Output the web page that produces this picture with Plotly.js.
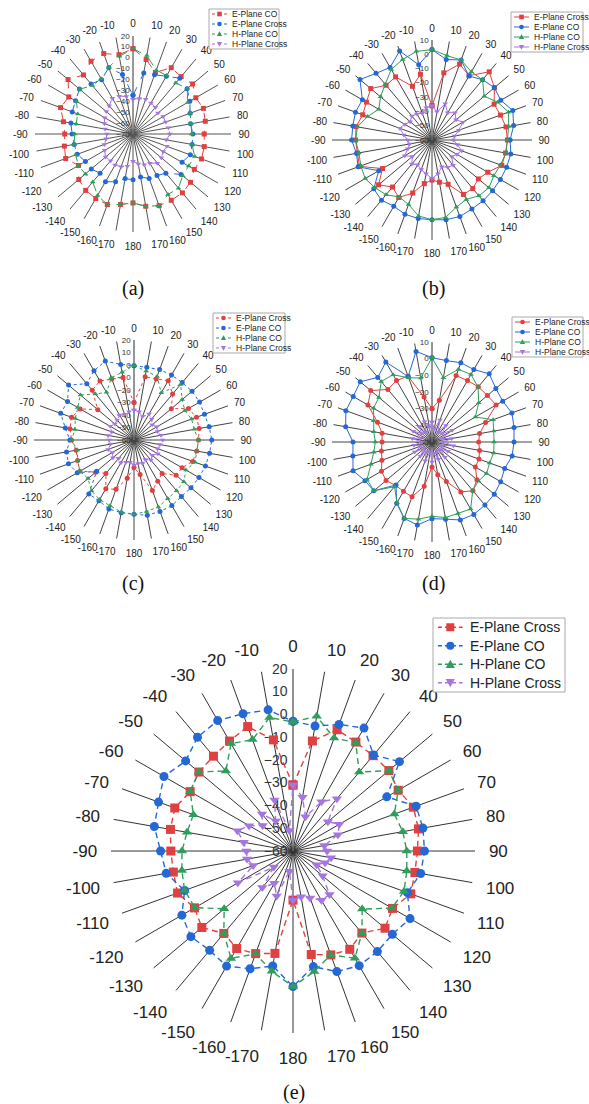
<!DOCTYPE html>
<html><head><meta charset="utf-8">
<script src="https://cdn.plot.ly/plotly-3.0.1.min.js"></script>
<style>html,body{margin:0;padding:0;background:#fff}#chart{width:589px;height:1104px}</style>
</head><body><div id="chart"></div>
<script>
// ---------- shared angular categories ----------
const ANGLES = [0,10,20,30,40,50,60,70,80,90,100,110,120,130,140,150,160,170,180,190,200,210,220,230,240,250,260,270,280,290,300,310,320,330,340,350];
const ANGLE_LABELS = ['0','10','20','30','40','50','60','70','80','90','100','110','120','130','140','150','160','170','180','-170','-160','-150','-140','-130','-120','-110','-100','-90','-80','-70','-60','-50','-40','-30','-20','-10'];

// ---------- (a) ----------
const A_NAMES = ['E-Plane CO','E-Plane Cross','H-Plane CO','H-Plane Cross'];
const A_RTICKS = [-70,-60,-50,-40,-30,-20,-10,0,10,20];
const A_ECO   = [8.3,-0.6,-9.8,0.3,-1.2,1.5,-3.4,-1.2,-2.6,-4.6,-3.6,-3,-5,-1,0.6,0.3,0,-2.6,-6.7,-4.3,-1.1,-1.6,-2.4,-5,-12.2,-4.2,-6,-7.3,-5.2,0.8,-1.9,7.8,0.8,7.1,8.6,4];
const A_ECROSS= [-34.5,-13.1,-12.2,-8.7,-3.1,-5.2,-9.7,-14.2,-16.3,-15,-14.9,-14,-18,-12.3,-23,-25.9,-26.5,-30,-28,-28.4,-23.3,-19.4,-23,-20,-19.6,-15.5,-15.1,-14,-12.1,-10.6,-9.1,-5.8,-10,-12.4,-5.1,-14.5];
const A_HCO   = [8.3,3.1,-7.6,-8,-8.8,-5,-12,-14,-15.9,-16,-15,-9.7,-11,-10.4,-5,-5.8,0,-2.6,-6.7,-4.3,-1.1,-4.9,-12.5,-13,-12,-14,-15,-16.5,-17,-16,-10,-6,-12,-11.3,-5,2.4];
const A_HCROSS= [-38,-37,-36,-37,-38,-40,-38,-38,-37,-36,-39,-37,-38,-36,-35,-39,-40,-42,-45,-40,-38,-37,-38,-37,-40,-42,-45,-46,-44,-42,-40,-38,-36,-32,-33,-35];

// ---------- (b) ----------
const B_NAMES = ['E-Plane Cross','E-Plane CO','H-Plane CO','H-Plane Cross'];
const B_RTICKS = [-60,-50,-40,-30,-20,-10,0,10];
const B_ECROSS= [-36,-12.3,-3.5,-8,2.3,-3,-9.8,-9,-7.4,-7.2,-7.7,-8,-14.9,-17.6,-15.6,-16,-27,-30,-32,-29,-20.5,-13.5,-17,-11.2,-20,-6,-7,-6.5,-6,-8.4,-7,-4,-10,-9,-20,-13.3];
const B_ECO   = [3.3,-2.8,-0.4,-8.3,-4.9,-3,-4.4,0.2,-2,-5.3,-4,-4.4,-4.7,-4.7,-4.4,-4.2,-3,-3.3,-4.2,-4.2,-4.7,-6.5,-5,-6.8,-17,-5,-6.3,-3.7,-3.7,-3,-3.7,5.8,0.9,-1.3,6.3,-6.5];
const B_HCO   = [3.3,0,-0.4,-4.9,-5,-12.3,-7,-3,-5.5,-7.2,-7.5,-9,-10,-8,-9,-12,-10,-5,-4.2,-6,-12,-14,-10,-8,-6,-7,-8,-6.5,-7,-12,-17,-13,-9,-3,0,3];
const B_HCROSS= [-36,-40,-33,-38,-35,-38,-35,-40,-44,-45,-42,-38,-40,-42,-37,-38,-40,-36,-33,-36,-38,-40,-38,-42,-38,-42,-44,-43,-40,-36,-38,-40,-38,-39,-40,-37];

// ---------- (c) ----------
const C_NAMES = ['E-Plane Cross','E-Plane CO','H-Plane CO','H-Plane Cross'];
const C_RTICKS = [-60,-50,-40,-30,-20,-10,0,10,20];
const C_ECROSS= [-30,-8.7,-8,-5.2,-12,-21,-9.7,-6.8,-7.1,-8.4,-9,-10,-15.6,-16,-25,-22,-17,-32,-38,-29,-18,-15,-25,-20,-10,-12,-13,-10,-8,-6.8,-10.3,-22.2,-8,-5.5,-8.1,-9.2];
const C_ECO   = [-0.5,-1,0,0,0,0.6,0.6,0,1.1,2.2,1.4,0.8,0,-0.5,-1,0.6,0.8,1.1,-0.5,-1,-1.3,-3.9,-3.7,-21,-7.6,-4.2,-5.2,-8.7,-4.2,2.4,1.4,8.3,-1.2,4,7.2,1.4];
const C_HCO   = [-0.5,-4,-6,-16.4,-2,-9.7,-13,-11,-11,-8.4,-9,-8,-12,-8,-7,-6,-3,-2,-0.5,-1.5,-4,-5,-7,-12,-10,-12,-14,-10,-12,-10,-8,-4,-12,-16,-7,-5];
const C_HCROSS= [-36,-37,-40,-36,-38,-41,-39,-40,-38,-37,-39,-40,-38,-41,-39,-42,-40,-41,-40,-42,-41,-39,-41,-38,-40,-38,-41,-40,-39,-41,-38,-40,-39,-37,-38,-37];

// ---------- (d) ----------
const D_NAMES = ['E-Plane Cross','E-Plane CO','H-Plane CO','H-Plane Cross'];
const D_RTICKS = [-50,-40,-30,-20,-10,0,10];
const D_ECROSS= [-30,-24.6,-7.6,-7.4,-6.8,-6.6,-5.6,-15.8,-21,-22,-21,-20,-20,-14.8,-11.8,-15.4,-24.8,-30,-35,-23,-15,-15.8,-16,-14,-15,-18,-19.2,-20,-19.6,-15.2,-5.6,-2,-8.8,-7.4,-8,-22.6];
const D_ECO   = [0.6,-0.4,0.6,0.2,3.4,0,-1,1,0,-0.8,-1.2,-3.6,-2.4,-1.2,-0.6,0.2,-0.2,-3,-4,0.6,-1.2,-7.6,-16.4,-4.4,-3.6,0.4,-1.8,-2.6,2.6,5,4.6,6.2,0.6,5.4,-8.2,5.2];
const D_HCO   = [0.6,-10.8,-3.6,-3.2,-7,-13.4,-20,-11,-12.4,-12.8,-12.4,-13.2,-12.2,-13.6,-12,-3.6,-4.4,-4,-5.4,-3,-1.2,-8,-15,-4.5,-5,-11,-14.5,-16,-14.5,-12.8,-9.5,-8.4,-2.6,-3.4,-9,-11];
const D_HCROSS= [-38,-42,-36,-43,-37,-42,-36,-44,-38,-43,-37,-44,-39,-43,-38,-44,-39,-43,-38,-44,-38,-43,-39,-44,-38,-43,-39,-44,-38,-43,-37,-42,-38,-43,-37,-41];

// ---------- (e) ----------
const E_NAMES = ['E-Plane Cross','E-Plane CO','H-Plane CO','H-Plane Cross'];
const E_RTICKS = [-60,-50,-40,-30,-20,-10,0,10,20];
const E_ECROSS= [-31,-10.9,-3.3,-4.7,-5.3,-5,-6.6,-3.7,-4,-5.3,-5.6,-4.9,-9.5,-7.2,-12.9,-10.1,-11.4,-13.8,-38.4,-14.3,-12,-10.5,-12.7,-7.7,-10,-6,-6.6,-6.3,-5.3,-4.7,-7.8,-6,-5.6,-4.2,-1.8,-10.4];
const E_ECO   = [-3,-4.2,-0.8,2.4,-4.9,1.1,-12.4,-2.4,-2,-2.2,-3,-6.5,-0.6,-3,-2.3,-1.8,-3.6,-8.4,-0.4,-8.7,-4.9,-1.6,-3,-1.4,-3.6,-9.3,-3.4,-1.8,1.9,2.9,5.5,1.6,5.3,6.2,4.2,3.0];
const E_HCO   = [-3.3,0.1,-7.2,-4.9,-14.7,-5,-6.6,-12.6,-11,-10,-9.2,-8.1,-9.8,-20.3,-12.9,-5.6,-11.4,-6.2,-0.4,-6.3,-11.9,-5.5,-12.7,-20.5,-10.2,-9.3,-10.4,-11.2,-12.7,-13.4,-7.8,-5.9,-14.1,-5.5,-7.9,-0.4];
const E_HCROSS= [-31,-36,-44,-35,-30,-40,-36.5,-39,-46,-45,-43,-45,-48,-43,-35,-35,-38,-39.6,-38.4,-51,-39,-43.6,-39,-49,-32,-41.4,-39.5,-39.5,-38,-34,-37.7,-42.6,-38.8,-44.8,-36.2,-50.8];

// ---------- styling ----------
const W = 589, H = 1104;
const COLORS = {red:'#e0403f', blue:'#2468d6', green:'#2f9d5c', purple:'#a676e0'};

const PANELS = [
  {id:'polar',  cx:133, cy:134, r:98,  rt:A_RTICKS, names:A_NAMES, series:[A_ECO,A_ECROSS,A_HCO,A_HCROSS],
   colors:[COLORS.red,COLORS.blue,COLORS.green,COLORS.purple], symbols:['square','circle','triangle-up','triangle-down'],
   dash:'dash', lw:1, ms:5, angFont:10, radFont:8, grid:'#555', tlen:5,
   legend:{x:209,y:9,w:70,h:40,font:8.5,row:10}, cap:'(a)', capX:133, capY:288},
  {id:'polar2', cx:432, cy:140, r:100, rt:B_RTICKS, names:B_NAMES, series:[B_ECROSS,B_ECO,B_HCO,B_HCROSS],
   colors:[COLORS.red,COLORS.blue,COLORS.green,COLORS.purple], symbols:['square','circle','triangle-up','triangle-down'],
   dash:'solid', lw:1, ms:5, angFont:10, radFont:8, grid:'#444', tlen:4,
   legend:{x:511,y:12,w:72,h:40,font:8.5,row:10}, cap:'(b)', capX:433, capY:288},
  {id:'polar3', cx:134, cy:440, r:100, rt:C_RTICKS, names:C_NAMES, series:[C_ECROSS,C_ECO,C_HCO,C_HCROSS],
   colors:[COLORS.red,COLORS.blue,COLORS.green,COLORS.purple], symbols:['circle','circle','triangle-up','triangle-down'],
   dash:'dot', lw:1, ms:5, angFont:10, radFont:8, grid:'#444', tlen:4,
   legend:{x:213,y:313,w:72,h:40,font:8.5,row:10}, cap:'(c)', capX:133, capY:583},
  {id:'polar4', cx:432, cy:442, r:100, rt:D_RTICKS, names:D_NAMES, series:[D_ECROSS,D_ECO,D_HCO,D_HCROSS],
   colors:[COLORS.red,COLORS.blue,COLORS.green,COLORS.purple], symbols:['circle','circle','triangle-up','triangle-down'],
   dash:'solid', lw:1, ms:5, angFont:10, radFont:8, grid:'#444', tlen:4,
   legend:{x:512,y:317,w:71,h:40,font:8.5,row:10}, cap:'(d)', capX:433, capY:583},
  {id:'polar5', cx:293, cy:851, r:182, rt:E_RTICKS, names:E_NAMES, series:[E_ECROSS,E_ECO,E_HCO,E_HCROSS],
   colors:[COLORS.red,COLORS.blue,COLORS.green,COLORS.purple], symbols:['square','circle','triangle-up','triangle-down'],
   dash:'6px,4px', lw:1.4, ms:9, angFont:17, radFont:14, grid:'#333', tlen:10,
   legend:{x:433,y:618,w:132,h:74,font:14,row:18.5}, cap:'(e)', capX:294, capY:1092}
];

const FONT = 'Arial, "Liberation Sans", Helvetica, sans-serif';
const data = [];
const layout = {
  width: W, height: H, margin:{l:0,r:0,t:0,b:0},
  paper_bgcolor:'#fff', showlegend:false, font:{family:FONT, color:'#222'},
  shapes:[], annotations:[]
};
const px = x => x / W;
const py = y => 1 - y / H;

PANELS.forEach(p => {
  p.series.forEach((vals, i) => {
    data.push({
      type:'scatterpolar', subplot:p.id, name:p.names[i],
      theta: ANGLES.concat([ANGLES[0] + 360]),
      r: vals.concat([vals[0]]),
      mode:'lines+markers',
      line:{color:p.colors[i], width:p.lw, dash:p.dash},
      marker:{color:p.colors[i], size:p.ms, symbol:p.symbols[i]},
      cliponaxis:false, hoverinfo:'skip'
    });
  });
  const rmin = p.rt[0], rmax = p.rt[p.rt.length-1];
  layout[p.id] = {
    domain:{x:[px(p.cx-p.r), px(p.cx+p.r)], y:[py(p.cy+p.r), py(p.cy-p.r)]},
    bgcolor:'rgba(0,0,0,0)',
    angularaxis:{rotation:90, direction:'clockwise', tickmode:'array', tickvals:ANGLES, ticktext:ANGLE_LABELS,
      showgrid:true, gridcolor:p.grid, gridwidth:1, showline:false, ticks:'outside', ticklen:p.tlen,
      tickcolor:'rgba(0,0,0,0)', layer:'below traces',
      tickfont:{size:p.angFont, color:'#222', family:FONT}},
    radialaxis:{range:[rmin, rmax], tickmode:'array', tickvals:p.rt, angle:90, tickangle:90,
      showline:true, linecolor:'#888', linewidth:1, showgrid:false, ticks:'', layer:'below traces',
      side:'counterclockwise', tickfont:{size:p.radFont, color:'#333', family:FONT}}
  };
  // custom legend
  const L = p.legend;
  layout.shapes.push({type:'rect', xref:'paper', yref:'paper', x0:px(L.x), x1:px(L.x+L.w), y0:py(L.y+L.h), y1:py(L.y),
    line:{color:'#aaa', width:1}, fillcolor:'#fff', layer:'above'});
  const scale = L.font / 8.5;
  p.names.forEach((nm, i) => {
    const yy = L.y + L.row*(i+0.5) + (L.h - L.row*4)/2;
    const lx0 = L.x + 3*scale, lx1 = L.x + 18*scale, mx = (lx0+lx1)/2, ms = (p.ms > 6 ? 4 : 2.3);
    layout.shapes.push({type:'line', xref:'paper', yref:'paper', x0:px(lx0), x1:px(lx1), y0:py(yy), y1:py(yy),
      line:{color:p.colors[i], width:p.lw, dash:p.dash === 'solid' ? 'solid' : (p.ms > 6 ? '4px,3px' : 'dot')}, layer:'above'});
    const sym = p.symbols[i];
    if (sym === 'circle') {
      layout.shapes.push({type:'circle', xref:'paper', yref:'paper', x0:px(mx-ms), x1:px(mx+ms), y0:py(yy+ms), y1:py(yy-ms),
        fillcolor:p.colors[i], line:{width:0}, layer:'above'});
    } else if (sym === 'square') {
      layout.shapes.push({type:'rect', xref:'paper', yref:'paper', x0:px(mx-ms), x1:px(mx+ms), y0:py(yy+ms), y1:py(yy-ms),
        fillcolor:p.colors[i], line:{width:0}, layer:'above'});
    } else {
      const s = ms*1.15, up = sym === 'triangle-up';
      const path = up
        ? `M ${px(mx-s)},${py(yy+s*0.8)} L ${px(mx+s)},${py(yy+s*0.8)} L ${px(mx)},${py(yy-s)} Z`
        : `M ${px(mx-s)},${py(yy-s*0.8)} L ${px(mx+s)},${py(yy-s*0.8)} L ${px(mx)},${py(yy+s)} Z`;
      layout.shapes.push({type:'path', xref:'paper', yref:'paper', path:path, fillcolor:p.colors[i], line:{width:0}, layer:'above'});
    }
    layout.annotations.push({xref:'paper', yref:'paper', x:px(L.x + 21*scale), y:py(yy), xanchor:'left', yanchor:'middle',
      text:nm, showarrow:false, font:{size:L.font, color:'#222', family:FONT}});
  });
  layout.annotations.push({xref:'paper', yref:'paper', x:px(p.capX), y:py(p.capY), xanchor:'center', yanchor:'middle',
    text:p.cap, showarrow:false, font:{size:20, color:'#111', family:'"Liberation Serif", "Times New Roman", serif'}});
});

Plotly.newPlot('chart', data, layout, {staticPlot:true, displayModeBar:false});
</script>
</body></html>
